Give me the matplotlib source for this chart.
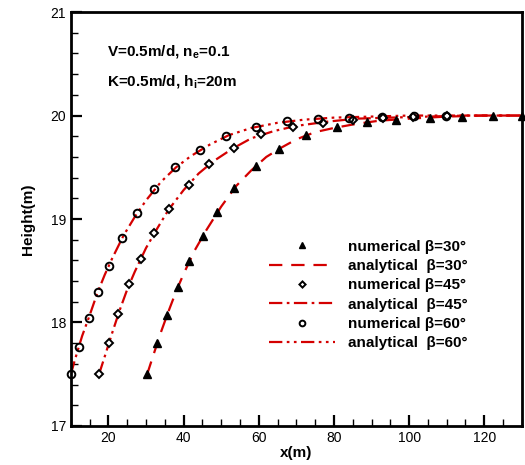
import matplotlib
matplotlib.use("Agg")
import matplotlib.pyplot as plt
from matplotlib.ticker import MultipleLocator

plt.rcParams["font.family"] = ["Liberation Sans", "DejaVu Sans"]
plt.rcParams["mathtext.fontset"] = "custom"
plt.rcParams["mathtext.rm"] = "Liberation Sans"
plt.rcParams["mathtext.bf"] = "Liberation Sans:bold"

RED = "#d40000"

# numerical results (markers)
num30_x = [30.3, 33.0, 35.5, 38.4, 41.5, 45.1, 49.0, 53.5, 59.3, 65.5, 72.5, 80.9, 88.9, 96.4, 105.5, 114.0, 122.4, 130.0]
num30_y = [17.5, 17.8, 18.07, 18.34, 18.59, 18.84, 19.07, 19.3, 19.51, 19.68, 19.81, 19.89, 19.94, 19.96, 19.98, 19.99, 20.0, 20.0]
num45_x = [17.5, 20.1, 22.6, 25.5, 28.6, 32.2, 36.0, 41.3, 46.7, 53.3, 60.7, 69.0, 77.0, 85.0, 93.0, 101.0, 110.0]
num45_y = [17.5, 17.8, 18.08, 18.37, 18.61, 18.86, 19.10, 19.33, 19.53, 19.69, 19.82, 19.89, 19.93, 19.96, 19.98, 19.99, 20.0]
num60_x = [10.0, 12.1, 14.8, 17.1, 20.1, 23.6, 27.7, 32.2, 37.7, 44.4, 51.2, 59.3, 67.5, 75.7, 84.1, 92.8, 101.2, 109.9]
num60_y = [17.5, 17.76, 18.04, 18.29, 18.55, 18.82, 19.06, 19.29, 19.50, 19.67, 19.80, 19.89, 19.95, 19.97, 19.98, 19.99, 20.0, 20.0]

# analytical solutions (lines)
ana30_x = [30.3, 32, 34, 36, 38, 40, 43, 46, 50, 54, 58, 62, 66, 70, 75, 80, 86, 92, 100, 110, 120, 130]
ana30_y = [17.5, 17.69, 17.91, 18.11, 18.30, 18.47, 18.70, 18.89, 19.12, 19.32, 19.47, 19.60, 19.69, 19.77,
           19.84, 19.88, 19.92, 19.95, 19.97, 19.99, 20.0, 20.0]
ana45_x = [17.5, 19, 21, 23, 25, 27, 30, 33, 36, 40, 44, 48, 53, 58, 64, 70, 78, 86, 95, 105, 115, 130]
ana45_y = [17.5, 17.67, 17.9, 18.12, 18.32, 18.49, 18.72, 18.91, 19.09, 19.28, 19.44, 19.56, 19.68, 19.78,
           19.85, 19.9, 19.94, 19.97, 19.98, 19.99, 20.0, 20.0]
ana60_x = [10, 11, 13, 15, 17, 19, 21, 24, 27, 30, 34, 38, 42, 47, 52, 58, 65, 72, 80, 90, 100, 130]
ana60_y = [17.5, 17.63, 17.87, 18.07, 18.28, 18.46, 18.62, 18.84, 19.02, 19.18, 19.36, 19.50, 19.61, 19.72,
           19.81, 19.88, 19.93, 19.96, 19.98, 19.99, 20.0, 20.0]

fig = plt.figure(figsize=(5.25, 4.65), dpi=100)
ax = fig.add_axes([0.135, 0.084, 0.859, 0.890])

ax.plot(num30_x, num30_y, ls="none", marker="^", ms=5.5, color="black", clip_on=False,
        label="numerical \u03b2=30\u00b0", zorder=3)
ax.plot(ana30_x, ana30_y, color=RED, lw=1.6, dashes=(6, 4), label="analytical  \u03b2=30\u00b0")
ax.plot(num45_x, num45_y, ls="none", marker="D", ms=4.2, mfc="white", mec="black", mew=1.4,
        clip_on=False, label="numerical \u03b2=45\u00b0", zorder=3)
ax.plot(ana45_x, ana45_y, color=RED, lw=1.6, dashes=(6, 2, 1.2, 2), label="analytical  \u03b2=45\u00b0")
ax.plot(num60_x, num60_y, ls="none", marker="o", ms=5.5, mfc="none", mec="black", mew=1.4,
        clip_on=False, label="numerical \u03b2=60\u00b0", zorder=3)
ax.plot(ana60_x, ana60_y, color=RED, lw=1.6, dashes=(6, 2, 1.2, 2, 1.2, 2), label="analytical  \u03b2=60\u00b0")

ax.set_xlim(10, 130)
ax.set_ylim(17, 21)
ax.xaxis.set_major_locator(MultipleLocator(20))
ax.xaxis.set_minor_locator(MultipleLocator(5))
ax.yaxis.set_major_locator(MultipleLocator(1))
ax.yaxis.set_minor_locator(MultipleLocator(0.2))
ax.tick_params(which="both", direction="in", labelsize=10)
ax.tick_params(which="major", length=8, width=1.6)
ax.tick_params(which="minor", length=5, width=1.0)
for s in ax.spines.values():
    s.set_linewidth(2)

ax.set_xlabel("x(m)", fontsize=11, fontweight="bold", labelpad=1)
ax.set_ylabel("Height(m)", fontsize=11, fontweight="bold", labelpad=11)

ax.text(0.08, 0.903, r"V=0.5m/d, n$_\mathbf{e}$=0.1", transform=ax.transAxes,
        fontsize=11, fontweight="bold", va="center")
ax.text(0.08, 0.831, r"K=0.5m/d, h$_\mathbf{i}$=20m", transform=ax.transAxes,
        fontsize=11, fontweight="bold", va="center")

leg = ax.legend(loc="upper left", bbox_to_anchor=(0.44, 0.45), frameon=False,
                prop={"size": 11, "weight": "bold"}, handlelength=4.3, handletextpad=0.85,
                labelspacing=0.35, borderpad=0, borderaxespad=0, markerscale=0.75)

fig.savefig("out.png", dpi=100)
